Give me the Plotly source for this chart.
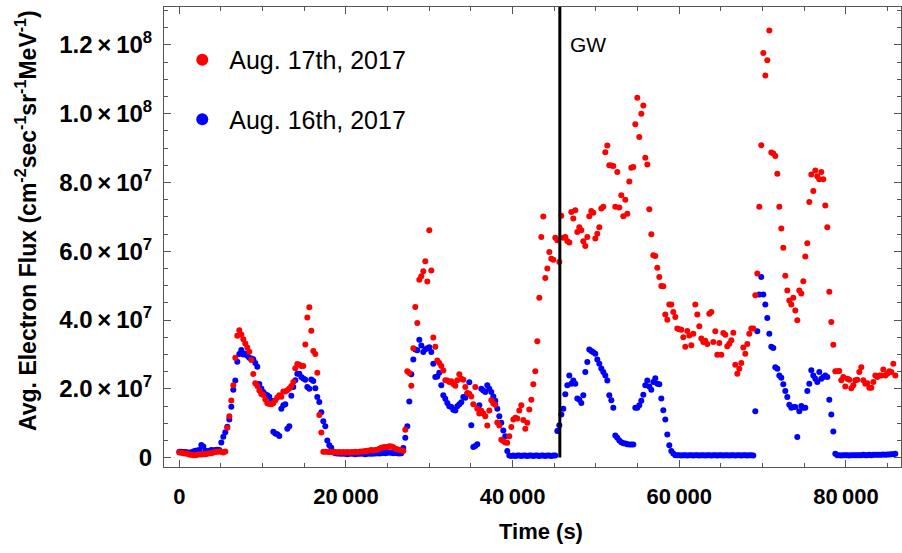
import plotly.graph_objects as go

# Sampling interval (s) of the averaged electron-flux series
SAMPLE_STEP = 240
GW_TIME = 45664

# Avg. electron flux, Aug. 17th, 2017 (units of 1e6 cm^-2 sec^-1 sr^-1 MeV^-1)
flux_aug17 = [
    1.5, 1.4, 1.3, 1.2, 1.1, 0.9, 0.8, 0.7, 0.7, 0.8,
    1.0, 0.9, 1.0, 1.0, 1.1, 1.3, 1.3, 1.5, 1.6, 1.7,
    1.8, 1.7, 1.5, 1.8, 8.7, 12.0, 16.6, 21.0, 29.0, 35.4,
    37.0, 35.8, 34.4, 33.2, 32.0, 30.8, 28.4, 24.3, 21.6, 20.8,
    19.5, 18.5, 18.2, 16.9, 15.8, 15.6, 15.5, 15.8, 16.7, 17.5,
    18.1, 17.7, 19.2, 19.2, 19.6, 20.1, 20.8, 22.0, 26.0, 27.2,
    27.0, 26.6, 26.6, 32.9, 40.7, 43.7, 36.9, 31.0, 30.1, 24.7,
    12.4, 7.3, 1.7, 1.7, 1.7, 1.6, 1.6, 1.5, 1.6, 1.5,
    1.6, 1.5, 1.6, 1.5, 1.6, 1.5, 1.6, 1.6, 1.7, 1.6,
    1.7, 1.8, 1.8, 1.9, 2.0, 2.1, 2.2, 2.1, 2.2, 2.3,
    2.6, 2.9, 3.0, 3.1, 3.0, 3.3, 3.2, 3.0, 2.6, 2.4,
    2.2, 2.1, 2.0, 8.1, 25.1, 24.6, 20.9, 31.8, 43.8, 39.1,
    51.7, 52.7, 54.2, 57.1, 51.2, 66.1, 54.4, 34.9, 32.2, 28.2,
    27.5, 26.6, 25.3, 22.5, 22.4, 22.0, 22.2, 21.4, 20.9, 22.5,
    24.2, 22.9, 22.6, 20.5, 18.8, 18.6, 17.8, 15.5, 20.5, 14.2,
    12.8, 13.6, 12.8, 12.0, 9.3, 13.7, 16.7, 15.7, 15.4, 10.2,
    9.3, 5.2, 4.8, 4.4, 4.3, 6.2, 8.9, 11.1, 11.6, 11.4,
    13.7, 15.2, 10.9, 8.4, 10.1, 14.0, 16.8, 21.3, 25.1, 33.8,
    46.5, 64.1, 70.1, 52.2, 55.0, 59.8, 57.8, 57.5, 63.9, 63.2,
    56.9, 70.3, 63.9, 64.1, 63.0, 62.5, 71.4, 69.5, 71.9, 65.6,
    67.0, 66.1, 62.9, 61.5, 64.1, 70.2, 71.7, 71.2, 63.7, 65.1,
    67.0, 72.4, 72.9, 88.8, 90.7, 85.0, 84.9, 84.8, 72.9, 83.0,
    72.7, 76.3, 70.2, 75.0, 70.9, 80.3, 84.3, 84.5, 96.9, 104.6,
    93.2, 100.0, 102.4, 87.2, 85.2, 72.2, 64.9, 58.8, 58.6, 55.2,
    52.5, 49.9, 49.8, 41.6, 40.1, 44.5, 44.5, 42.3, 40.9, 37.5,
    37.3, 37.2, 35.0, 32.2, 36.8, 35.5, 32.7, 36.0, 44.5, 41.6,
    38.2, 34.6, 33.6, 34.0, 33.0, 41.8, 42.3, 33.6, 36.7, 29.9,
    33.3, 29.9, 36.2, 35.7, 32.4, 33.1, 34.1, 36.3, 27.0, 24.4,
    25.8, 27.5, 32.0, 30.2, 33.0, 36.0, 37.5, 37.5, 47.2, 53.5,
    72.9, 90.8, 117.6, 111.1, 115.5, 124.2, 88.7, 88.4, 87.7, 82.5,
    72.9, 66.6, 61.0, 52.9, 48.6, 45.7, 44.5, 46.5, 42.8, 39.9,
    48.6, 47.7, 51.3, 58.5, 62.3, 74.3, 82.3, 77.5, 83.5, 81.8,
    80.9, 83.0, 80.9, 73.3, 67.0, 48.2, 39.4, 32.8, 25.1, 25.1,
    25.2, 22.5, 23.4, 20.7, 22.9, 22.6, 20.2, 21.0, 22.5, 22.6,
    24.9, 26.3, 22.5, 21.5, 21.6, 20.3, 20.3, 22.0, 23.9, 23.4,
    23.9, 23.9, 25.6, 23.9, 24.4, 25.1, 24.9, 27.3, 23.9,
]

# Avg. electron flux, Aug. 16th, 2017 (units of 1e6)
flux_aug16 = [
    1.7, 1.7, 1.6, 1.6, 1.5, 1.5, 1.5, 1.8, 2.0, 2.1,
    2.2, 3.7, 3.2, 2.0, 1.8, 2.0, 2.2, 2.1, 2.2, 2.3,
    2.2, 4.4, 6.1, 7.4, 9.0, 11.1, 14.8, 19.7, 22.4, 27.9,
    30.1, 31.3, 30.0, 30.3, 29.6, 29.0, 28.8, 28.6, 27.5, 26.4,
    21.4, 20.1, 19.1, 18.4, 18.1, 17.7, 16.5, 7.5, 7.0, 6.8,
    6.3, 14.2, 15.2, 15.5, 8.4, 9.1, 18.0, 20.5, 22.5, 24.4,
    24.4, 23.4, 23.0, 22.6, 20.5, 20.0, 22.7, 22.3, 20.2, 17.6,
    16.2, 13.2, 10.6, 9.1, 5.0, 3.6, 2.9, 1.6, 1.3, 1.2,
    1.2, 1.1, 1.2, 1.1, 1.0, 1.1, 1.2, 1.1, 1.0, 1.1,
    1.1, 1.2, 1.1, 1.0, 1.1, 1.2, 1.1, 1.2, 1.2, 1.3,
    1.2, 1.3, 1.4, 1.3, 1.4, 1.5, 1.4, 1.3, 1.4, 1.3,
    1.2, 1.3, 2.8, 5.8, 9.1, 16.3, 24.2, 28.5, 31.4, 31.2,
    34.3, 32.6, 30.7, 31.5, 31.8, 32.1, 30.7, 27.3, 23.4, 23.6,
    24.7, 21.0, 18.1, 17.1, 15.9, 14.9, 14.7, 13.9, 13.7, 14.9,
    15.5, 16.1, 17.6, 17.4, 18.6, 21.9, 9.4, 3.1, 3.4, 3.9,
    15.2, 20.0, 19.5, 19.1, 21.0, 20.0, 19.1, 17.8, 16.5, 14.2,
    12.0, 10.1, 7.9, 6.2, 1.9, 0.6, 0.5, 0.6, 0.5, 0.6,
    0.6, 0.5, 0.6, 0.6, 0.5, 0.6, 0.6, 0.5, 0.6, 0.6,
    0.5, 0.6, 0.6, 0.5, 0.6, 0.6, 0.5, 0.6, 0.6, 7.7,
    9.4, 12.5, 14.2, 18.4, 21.0, 23.9, 21.5, 22.4, 21.5, 17.2,
    16.8, 15.9, 18.1, 24.9, 27.8, 31.4, 31.0, 30.6, 30.2, 28.5,
    27.3, 25.9, 24.9, 23.9, 22.4, 18.1, 16.7, 14.5, 6.4, 5.8,
    5.0, 4.5, 4.2, 4.1, 3.9, 3.8, 3.8, 3.8, 14.5, 14.5,
    15.2, 16.5, 18.3, 21.0, 22.4, 20.7, 19.7, 22.0, 23.1, 21.5,
    21.3, 17.2, 13.8, 11.1, 6.7, 3.6, 1.9, 1.2, 0.7, 0.7,
    0.7, 0.6, 0.7, 0.7, 0.6, 0.7, 0.7, 0.6, 0.7, 0.7,
    0.6, 0.7, 0.7, 0.6, 0.7, 0.7, 0.6, 0.7, 0.7, 0.6,
    0.7, 0.7, 0.6, 0.7, 0.7, 0.6, 0.7, 0.7, 0.6, 0.7,
    0.7, 0.6, 0.7, 0.7, 0.6, 0.7, 0.7, 0.6, 13.5, 36.7,
    47.4, 52.5, 47.4, 44.5, 40.6, 36.0, 32.2, 31.9, 26.3, 25.8,
    23.9, 23.2, 21.3, 19.4, 17.6, 15.4, 14.5, 14.7, 14.7, 6.0,
    13.5, 15.0, 14.5, 14.5, 19.4, 21.5, 25.4, 23.9, 22.9, 22.0,
    24.9, 22.9, 23.4, 23.9, 23.4, 16.8, 12.5, 7.6, 1.1, 0.7,
    0.7, 0.6, 0.7, 0.7, 0.7, 0.6, 0.7, 0.7, 0.7, 0.7,
    0.7, 0.7, 0.8, 0.7, 0.7, 0.8, 0.7, 0.8, 0.8, 0.8,
    0.8, 0.8, 0.9, 0.8, 0.9, 0.9, 1.0, 1.0, 1.1,
]

x_tick_vals = [0, 20000, 40000, 60000, 80000]
x_tick_text = ["0", "20\u2009000", "40\u2009000", "60\u2009000", "80\u2009000"]
y_tick_vals = [0, 2e7, 4e7, 6e7, 8e7, 1e8, 1.2e8]
SEP = "\u2009\u00d7\u2009"
y_tick_text = ["0"] + [m + SEP + "10<sup>" + e + "</sup>" for m, e in
                       [("2.0", "7"), ("4.0", "7"), ("6.0", "7"), ("8.0", "7"),
                        ("1.0", "8"), ("1.2", "8")]]

X_RANGE = [-1836, 86604]
Y_RANGE = [-2.73e6, 1.31e8]

t16 = [SAMPLE_STEP * i for i in range(len(flux_aug16))]
t17 = [SAMPLE_STEP * i for i in range(len(flux_aug17))]

fig = go.Figure()
fig.add_trace(go.Scatter(
    x=t16, y=[v * 1e6 for v in flux_aug16], mode="markers",
    name="Aug. 16th, 2017", legendrank=2, legendgroup="a16",
    marker=dict(color="#0000ff", size=6, line=dict(width=0)),
))
fig.add_trace(go.Scatter(
    x=t17, y=[v * 1e6 for v in flux_aug17], mode="markers",
    name="Aug. 17th, 2017", legendrank=1, legendgroup="a17",
    marker=dict(color="#ff0000", size=6, line=dict(width=0)),
))
fig.add_trace(go.Scatter(
    x=[GW_TIME, GW_TIME], y=[0, Y_RANGE[1]], mode="lines",
    line=dict(color="black", width=3), showlegend=False, hoverinfo="skip",
))

NARROW = "Liberation Sans Narrow, Arial Narrow, Liberation Sans, Arial"
SANS = "Liberation Sans, Arial"
axis_common = dict(
    showline=True, linecolor="#555555", linewidth=1, mirror="ticks",
    ticks="inside", ticklen=7, tickwidth=1, tickcolor="#555555",
    showgrid=False, zeroline=False,
)

fig.update_xaxes(
    range=X_RANGE, tickmode="array", tickvals=x_tick_vals, ticktext=x_tick_text,
    tickfont=dict(family=NARROW, size=22, color="black", weight="bold"),
    ticklabelstandoff=10,
    minor=dict(ticks="inside", ticklen=4, tick0=0, dtick=5000, tickcolor="#555555", showgrid=False),
    **axis_common,
)
fig.update_yaxes(
    range=Y_RANGE, tickmode="array", tickvals=y_tick_vals, ticktext=y_tick_text,
    tickfont=dict(family=SANS, size=24, color="black", weight="bold"),
    ticklabelstandoff=6,
    minor=dict(ticks="inside", ticklen=4, tick0=0, dtick=5e6, tickcolor="#555555", showgrid=False),
    **axis_common,
)

fig.add_annotation(
    text="Avg. Electron Flux (cm<sup>-2</sup>sec<sup>-1</sup>sr<sup>-1</sup>MeV<sup>-1</sup>)",
    xref="paper", yref="paper", x=0, y=0.5, xanchor="center", yanchor="middle",
    xshift=-138, yshift=16, textangle=-90, showarrow=False,
    font=dict(family=SANS, size=23, color="black", weight="bold"),
)
fig.add_annotation(
    text="Time (s)", xref="paper", yref="paper", x=0.5, y=0,
    xanchor="center", yanchor="middle", yshift=-64, xshift=8, showarrow=False,
    font=dict(family=NARROW, size=22, color="black", weight="bold"),
)
fig.add_annotation(
    text="GW", x=GW_TIME, y=1.2e8, xref="x", yref="y",
    xanchor="left", yanchor="middle", xshift=8, showarrow=False,
    font=dict(family=SANS, size=21, color="black"),
)

fig.update_layout(
    width=902, height=553,
    margin=dict(l=164, r=1, t=7, b=86),
    plot_bgcolor="white", paper_bgcolor="white",
    showlegend=True,
    legend=dict(
        x=0.0153, y=0.935, xanchor="left", yanchor="top",
        bgcolor="rgba(0,0,0,0)", itemsizing="constant", itemwidth=44,
        tracegroupgap=24,
        font=dict(family=SANS, size=25, color="black"),
    ),
)

fig.write_html("out.html", config={"displayModeBar": False},
               post_script="document.body.style.margin='0px';")
